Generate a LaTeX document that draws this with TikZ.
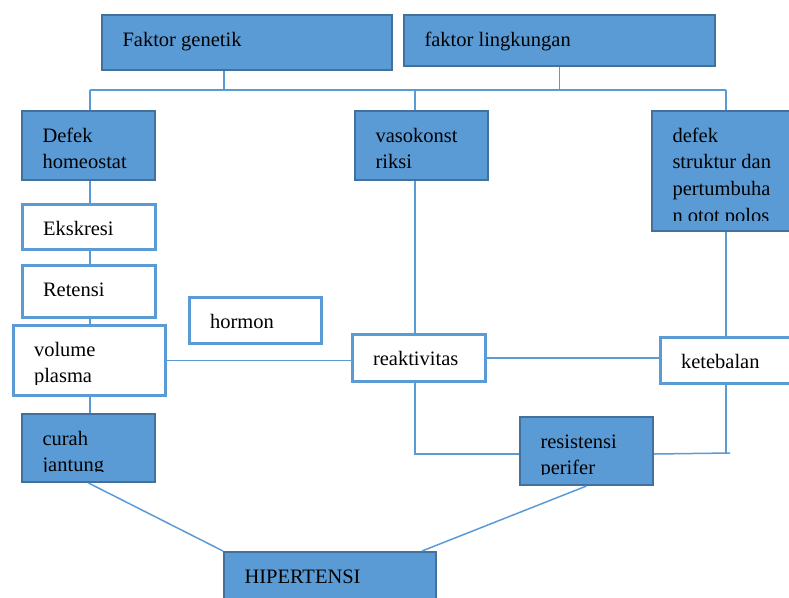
\documentclass[tikz,border=0pt]{standalone}
\usepackage{fontspec}
\setmainfont{Liberation Serif}
\definecolor{KotakBiru}{RGB}{91, 155, 213}
\definecolor{TepiBiru}{RGB}{65, 113, 156}

\begin{document}
\begin{tikzpicture}[x=1pt, y=-1pt, font=\fontsize{20.5}{26.7}\selectfont, bx/.style 2 args={rectangle, anchor=north west, inner sep=0pt, minimum width=#1, minimum height=#2}, isi/.style={path picture={\clip ([yshift=11pt]path picture bounding box.south west) rectangle (path picture bounding box.north east); \node[anchor=base west, inner sep=0pt, minimum width=0pt, minimum height=0pt, draw=none, fill=none, path picture={}] at ([xshift=19.5pt, yshift=-31pt]path picture bounding box.north west) {\begin{tabular}[t]{@{}l@{}}#1\end{tabular}};}}, biru/.style={fill=KotakBiru, draw=TepiBiru, line width=2pt}, putih/.style={fill=white, draw=KotakBiru, line width=2.5pt}, ln/.style={draw=KotakBiru, line width=1.5pt}]
\useasboundingbox (0,0) rectangle (789,597);
\node[bx={290}{55}, biru, isi={Faktor genetik}] (genetik) at (101,14) {};
\node[bx={311}{51}, biru, isi={faktor lingkungan}] (lingkungan) at (403,14) {};
\node[bx={133}{69}, biru, isi={Defek\\homeostat}] (defek) at (21,110) {};
\node[bx={133}{69}, biru, isi={vasokonst\\riksi}] (vaso) at (354,110) {};
\node[bx={150}{120}, biru, isi={defek\\struktur dan\\pertumbuha\\n otot polos}] (struktur) at (651,110) {};
\node[bx={133}{45}, putih, isi={Ekskresi}] (ekskresi) at (21,203) {};
\node[bx={133}{52}, putih, isi={Retensi}] (retensi) at (21,264) {};
\node[bx={132}{46}, putih, isi={hormon}] (hormon) at (188,296) {};
\node[bx={152}{70}, putih, isi={volume\\plasma}] (volume) at (12,324) {};
\node[bx={133}{47}, putih, isi={reaktivitas}] (reaktivitas) at (351,333) {};
\node[bx={145}{46}, putih, isi={ketebalan}] (ketebalan) at (659,336) {};
\node[bx={133}{68}, biru, isi={curah\\jantung}] (curah) at (21,413) {};
\node[bx={133}{68}, biru, isi={resistensi\\perifer}] (resistensi) at (519,416) {};
\node[bx={212}{60}, biru, isi={HIPERTENSI}] (hipertensi) at (223,551) {};
\coordinate (kiri) at (90,90);
\coordinate (tengah) at (415,90);
\coordinate (kanan) at (726,90);
\coordinate (ujung) at (730,453);
\draw[ln] (kiri) -- (kanan);
\draw[ln] ([xshift=-23pt]genetik.south) -- ([xshift=-23pt]genetik.south |- kiri);
\draw[ln] (lingkungan.south) -- (lingkungan.south |- kiri);
\draw[ln] (kiri) -- (kiri |- defek.north); \draw[ln] (tengah) -- (tengah |- vaso.north); \draw[ln] (kanan) -- (kanan |- struktur.north);
\draw[ln] (defek.south -| kiri) -- (ekskresi.north -| kiri); \draw[ln] (ekskresi.south -| kiri) -- (retensi.north -| kiri); \draw[ln] (retensi.south -| kiri) -- (volume.north -| kiri); \draw[ln] (volume.south -| kiri) -- (curah.north -| kiri);
\draw[ln] (vaso.south -| tengah) -- (reaktivitas.north -| tengah); \draw[ln] (struktur.south -| kanan) -- (ketebalan.north -| kanan);
\draw[ln] (volume.east) -- (volume.east -| reaktivitas.west); \draw[ln] (reaktivitas.east) -- (reaktivitas.east -| ketebalan.west);
\draw[ln] (reaktivitas.south -| tengah) |- ([yshift=-3pt]resistensi.west);
\draw[ln] (ketebalan.south -| kanan) -- (ujung -| kanan);
\draw[ln] ([yshift=-3pt]resistensi.east) -- (ujung);
\draw[ln] (curah.south) -- (hipertensi.north west);
\draw[ln] (resistensi.south) -- ([xshift=-15pt]hipertensi.north east);
\end{tikzpicture}
\end{document}
